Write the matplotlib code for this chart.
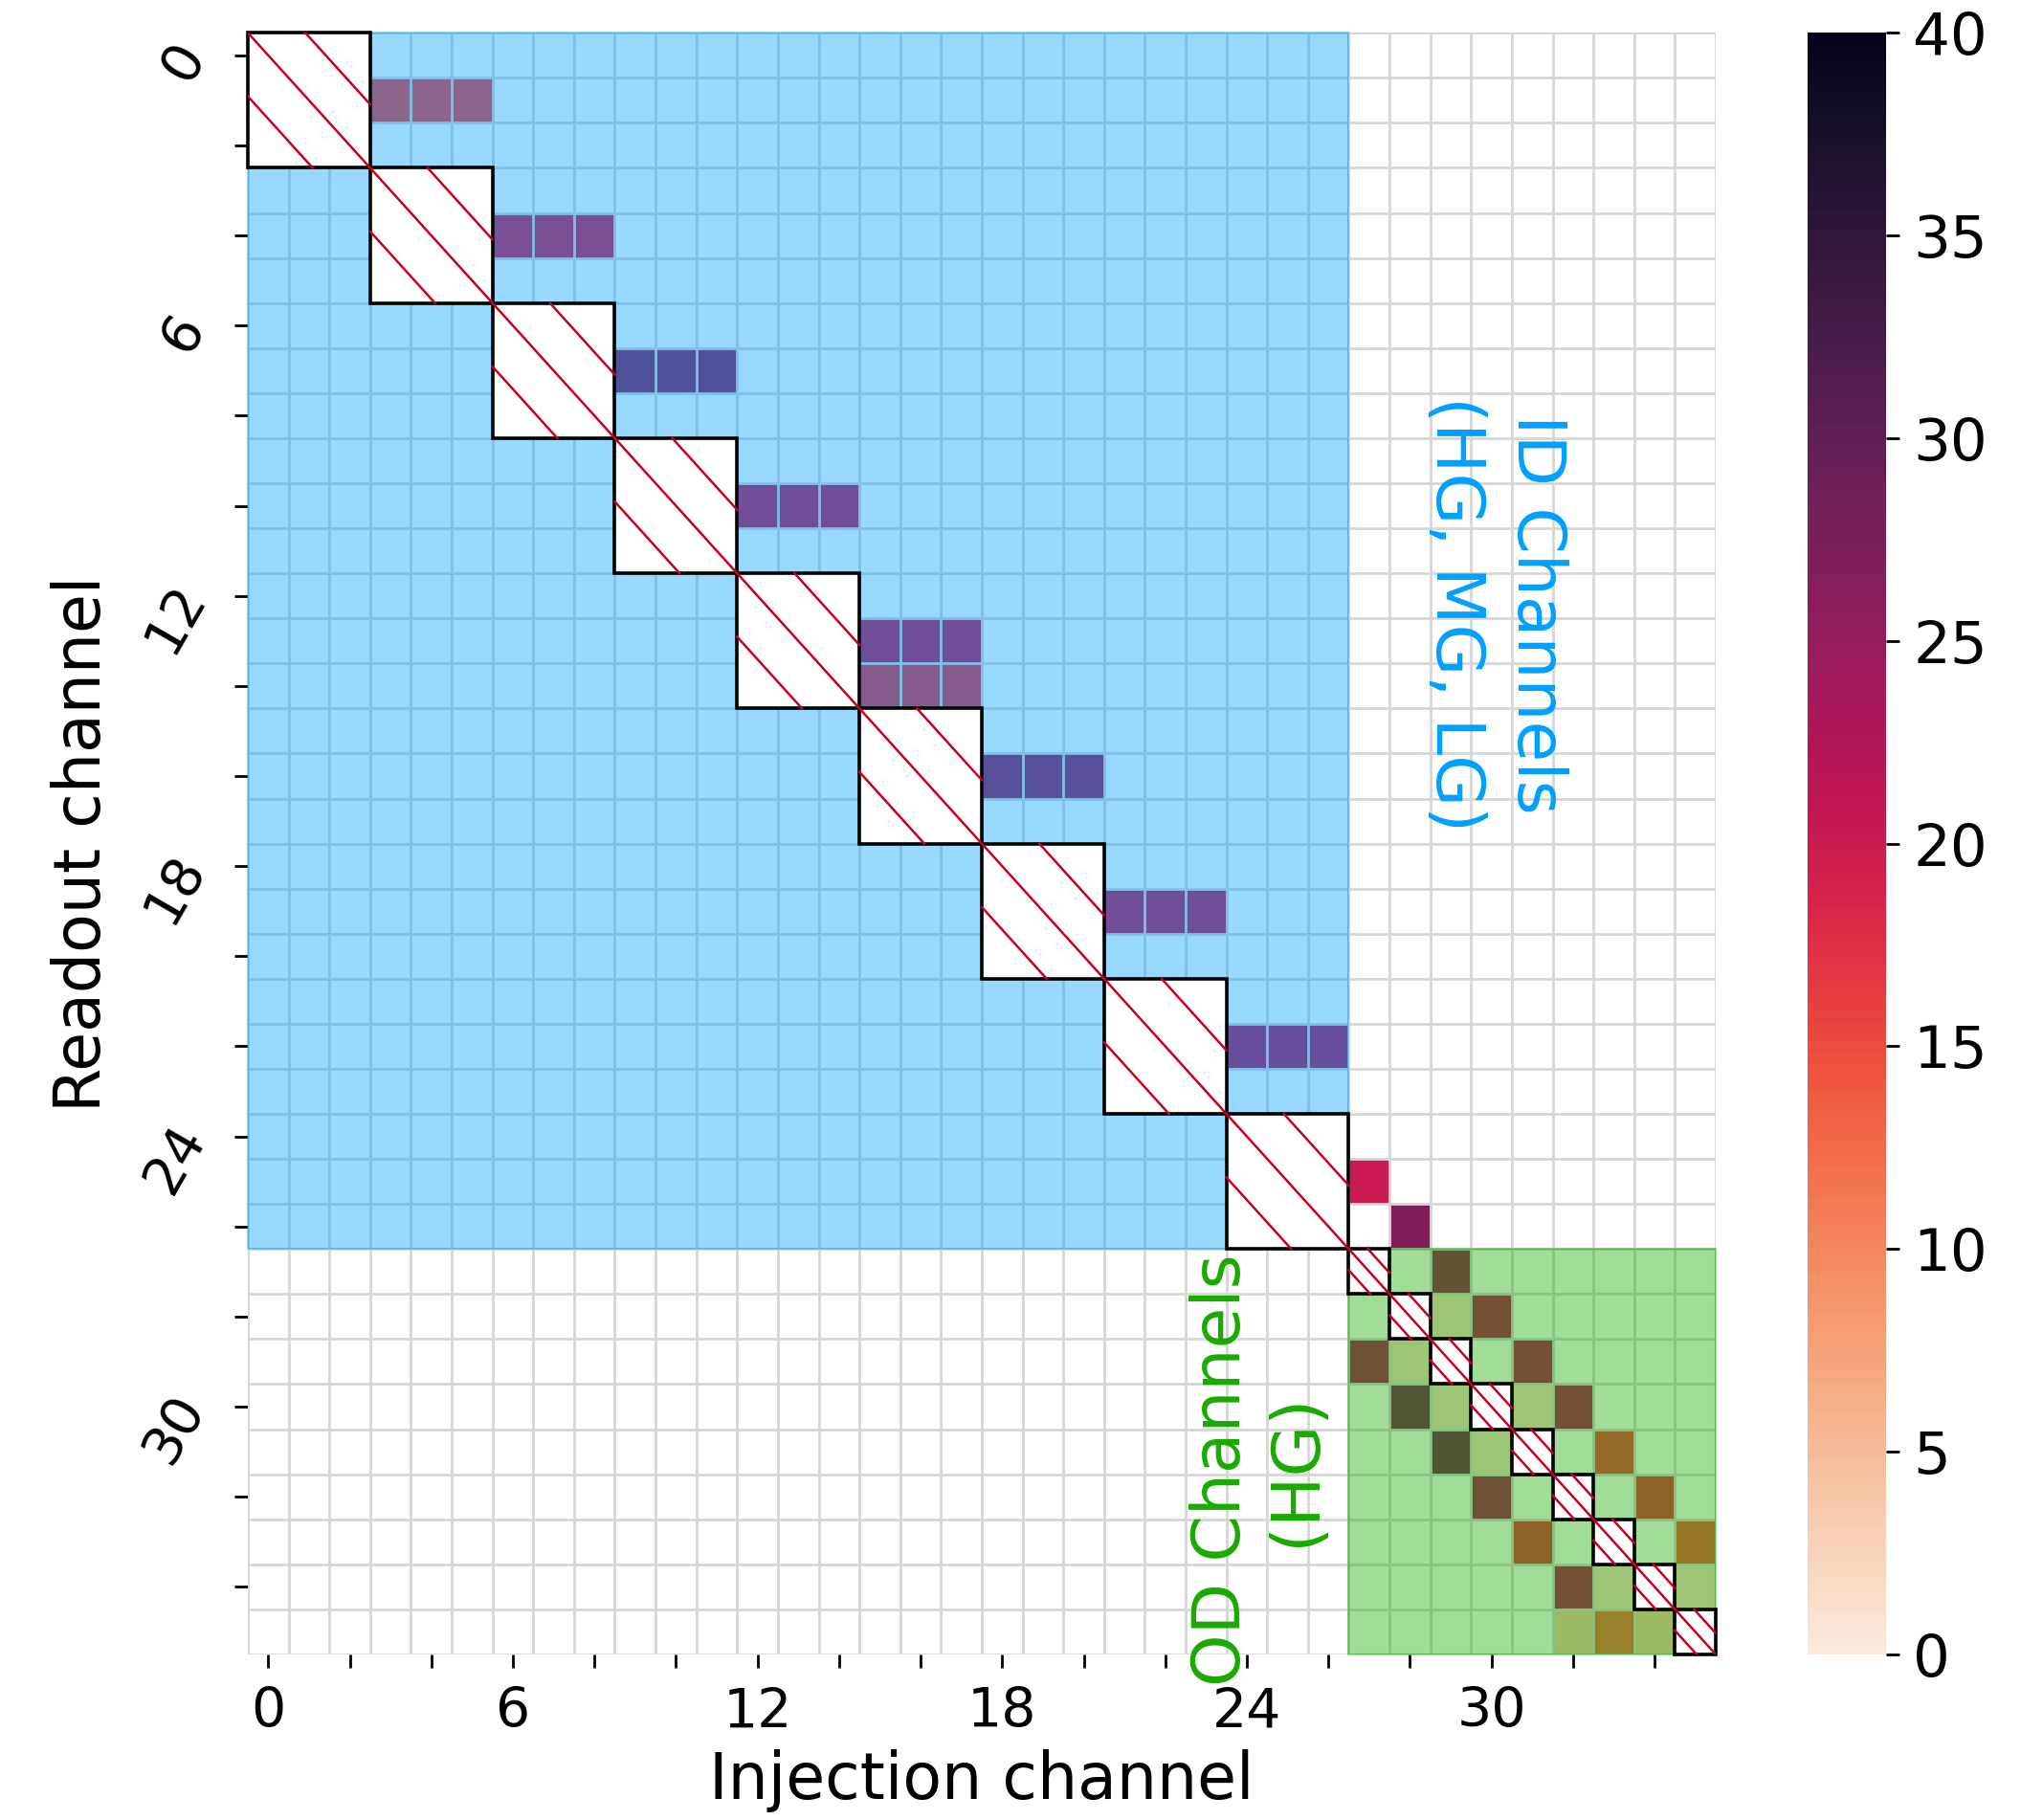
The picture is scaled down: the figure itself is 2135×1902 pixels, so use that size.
import numpy as np
import matplotlib
matplotlib.use('Agg')
import matplotlib.pyplot as plt
import seaborn as sns
from matplotlib.patches import Rectangle

n_ch = 36      # all channels
n_id = 27      # 9 ID channels x 3 gains
vmin, vmax = 0, 40

# ID crosstalk: row, first column of the 3 gain cells, value
id_rows = [1, 4, 7, 10, 13, 14, 16, 19, 22]
id_cols = [3, 6, 9, 12, 15, 15, 18, 21, 24]
id_vals = [16, 20, 26.5, 21.5, 21.5, 17.5, 25, 21.5, 23]

# cells at the ID / OD border
edge_rows = [25, 26]
edge_cols = [27, 28]
edge_vals = [20, 27]

# OD crosstalk
od_rows = [27, 28, 28, 29, 29, 29, 30, 30, 30, 30, 31, 31, 31, 32, 32, 33, 33, 34, 34, 34, 35, 35, 35]
od_cols = [29, 29, 30, 27, 28, 31, 28, 29, 31, 32, 29, 30, 33, 30, 34, 31, 35, 32, 33, 35, 32, 33, 34]
od_vals = [25, 2, 22, 23, 2, 22, 27.5, 2, 2, 22, 28, 2, 16, 23, 17, 17, 14, 22, 2, 2, 4, 13, 4]

# injected channels (hatched): ID blocks of 3, OD single cells
id_blocks = list(range(0, n_id, 3))
od_blocks = list(range(n_id, n_ch))

tick_pos = list(range(0, n_ch, 2))
tick_lab = [str(i) if i % 6 == 0 else '' for i in tick_pos]
cbar_ticks = list(range(0, 41, 5))

blue = '#00a0ff'
green = '#14aa00'
hatch_red = '#c8001e'

# build matrix
mat = np.full((n_ch, n_ch), np.nan)
for r, c, v in zip(id_rows, id_cols, id_vals):
    mat[r, c:c + 3] = v
for r, c, v in zip(edge_rows, edge_cols, edge_vals):
    mat[r, c] = v
for r, c, v in zip(od_rows, od_cols, od_vals):
    mat[r, c] = v

cmap = sns.color_palette('rocket_r', as_cmap=True)

fig = plt.figure(figsize=(21.35, 19.02), dpi=100)
ax = fig.add_axes([0.1213, 0.0910, 0.7185, 0.891])
cax = fig.add_axes([0.885, 0.0910, 0.0384, 0.891])

mesh = ax.pcolormesh(np.arange(n_ch + 1), np.arange(n_ch + 1), np.ma.masked_invalid(mat),
                     cmap=cmap, vmin=vmin, vmax=vmax, zorder=1)

# grid
for k in range(n_ch + 1):
    ax.axhline(k, color='#d6d6d6', lw=2.0, zorder=2)
    ax.axvline(k, color='#d6d6d6', lw=2.0, zorder=2)

# region shading
ax.add_patch(Rectangle((0, 0), n_id, n_id, facecolor=blue, edgecolor=blue,
                       alpha=0.4, lw=1.5, zorder=3, clip_on=False))
ax.add_patch(Rectangle((n_id, n_id), n_ch - n_id, n_ch - n_id, facecolor=green,
                       edgecolor=green, alpha=0.4, lw=1.5, zorder=3, clip_on=False))


def hatched(x0, s):
    ax.add_patch(Rectangle((x0, x0), s, s, facecolor='white', edgecolor='black',
                           lw=2.6, zorder=5, clip_on=False))
    d = 0.47 * s
    ax.plot([x0, x0 + s], [x0, x0 + s], color=hatch_red, lw=1.8, zorder=6)
    ax.plot([x0 + d, x0 + s], [x0, x0 + s - d], color=hatch_red, lw=1.8, zorder=6)
    ax.plot([x0, x0 + s - d], [x0 + d, x0 + s], color=hatch_red, lw=1.8, zorder=6)


for b in id_blocks:
    hatched(b, 3)
for b in od_blocks:
    hatched(b, 1)

ax.set_xlim(0, n_ch)
ax.set_ylim(n_ch, 0)
for s in ax.spines.values():
    s.set_visible(False)

ax.set_xticks([p + 0.5 for p in tick_pos])
ax.set_xticklabels(tick_lab, fontsize=41)
ax.set_yticks([p + 0.5 for p in tick_pos])
ax.set_yticklabels(tick_lab, fontsize=41, rotation=60)
ax.tick_params(length=10, width=2, pad=14)

ax.set_xlabel('Injection channel', fontsize=48, labelpad=8)
ax.set_ylabel('Readout channel', fontsize=48, labelpad=16)

ax.text(30.6, 12.9, 'ID Channels\n(HG, MG, LG)', rotation=-90, ha='center', va='center',
        multialignment='center', color=blue, fontsize=50, linespacing=1.35, zorder=7)
ax.text(24.8, 31.9, 'OD Channels\n(HG)', rotation=90, ha='center', va='center',
        multialignment='center', color='#19aa00', fontsize=50, linespacing=1.2,
        zorder=7, clip_on=False)

cb = fig.colorbar(mesh, cax=cax, ticks=cbar_ticks)
cb.outline.set_visible(False)
cb.ax.tick_params(labelsize=44, length=10, width=2, pad=10)

fig.savefig('out.png', dpi=100)
